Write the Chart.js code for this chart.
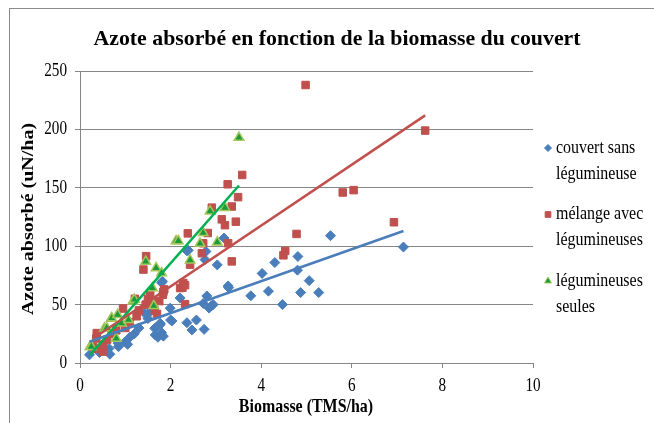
<!DOCTYPE html>
<html>
<head>
<meta charset="utf-8">
<script src="https://cdn.jsdelivr.net/npm/chart.js@4.4.0/dist/chart.umd.min.js"></script>
<style>
  html, body { margin: 0; padding: 0; background: #fff; }
  canvas { display: block; }
</style>
</head>
<body>
<canvas id="chart" width="654" height="423"></canvas>
<script>
const titre = 'Azote absorbé en fonction de la biomasse du couvert'
const titreX = 'Biomasse (TMS/ha)'
const titreY = 'Azote absorbé (uN/ha)'
const xTicks = [0, 2, 4, 6, 8, 10]
const yTicks = [0, 50, 100, 150, 200, 250]

// couvert sans légumineuse
const sansLabel = ['couvert sans', 'légumineuse']
const sansX = [0.21, 0.43, 0.66, 0.5, 0.64, 0.85, 0.84, 0.99, 1.05, 1.1, 1.2, 1.3, 1.43, 1.5, 1.55, 1.6, 1.65, 1.66, 1.72, 1.77, 1.8, 1.84, 1.77, 1.8, 1.82, 1.99, 2.0, 2.03, 2.21, 2.36, 2.39, 2.36, 2.47, 2.57, 2.72, 2.74, 2.76, 2.78, 2.8, 2.85, 2.9, 2.94, 3.03, 3.18, 3.27, 3.28, 3.77, 4.02, 4.16, 4.3, 4.47, 4.8, 4.81, 4.87, 5.06, 5.27, 5.53, 7.14]
const sansY = [7, 9, 7.5, 12, 12.5, 14, 17, 18, 16, 22, 25, 30, 42.5, 38, 44, 47, 29.7, 24, 22, 32.8, 26, 23, 34, 68.7, 70, 46.9, 36.8, 36, 55.7, 34.5, 96.5, 96, 28.3, 36.8, 51, 28.8, 88.5, 95.5, 57.4, 47, 49, 50, 84, 107, 66, 64.5, 57.5, 76.7, 61.5, 86, 50, 79.5, 91.2, 60.3, 70.5, 60.3, 109, 99.3]

// mélange avec légumineuses
const melangeLabel = ['mélange avec', 'légumineuses']
const melangeX = [0.29, 0.33, 0.36, 0.37, 0.51, 0.51, 0.6, 0.7, 0.8, 0.95, 1.0, 1.1, 1.21, 1.25, 1.3, 1.4, 1.46, 1.45, 1.5, 1.55, 1.6, 1.65, 1.7, 1.75, 1.83, 1.84, 1.86, 2.21, 2.26, 2.28, 2.32, 2.32, 2.38, 2.43, 2.69, 2.72, 2.82, 2.91, 3.13, 3.2, 3.26, 3.27, 3.35, 3.35, 3.44, 3.49, 3.58, 4.49, 4.53, 4.78, 4.98, 5.8, 6.04, 6.93, 7.62]
const melangeY = [14, 12, 21, 25.6, 9.7, 15.5, 20, 25, 28, 46.6, 30, 35, 55, 40, 45, 80, 91.5, 50, 55, 58, 52, 45, 42, 53, 58.5, 61, 63, 64.2, 64.4, 68.5, 66.6, 50.4, 111, 84.2, 94, 102.5, 111.3, 133, 123, 118, 153, 102.5, 134, 87, 121, 142, 161, 92.2, 96, 110.5, 238, 146, 148, 120.5, 199]

// légumineuses seules
const seulesLabel = ['légumineuses', 'seules']
const seulesX = [0.22, 0.25, 0.54, 0.59, 0.69, 0.7, 0.8, 0.83, 0.92, 1.07, 1.17, 1.2, 1.45, 1.6, 1.63, 1.68, 1.8, 2.12, 2.17, 2.43, 2.65, 2.72, 2.87, 3.03, 3.2, 3.51]
const seulesY = [14, 14, 29.7, 30, 38.2, 38.5, 21, 41.4, 34, 37, 52.8, 54.3, 87, 64.2, 49, 81.4, 77, 104.5, 104.5, 88, 102.3, 111.5, 130, 103.4, 133, 193]

// courbes de tendance (extrémités)
const tendSansX = [0.21, 7.14]
const tendSansY = [18.2, 113]
const tendMelangeX = [0.29, 7.62]
const tendMelangeY = [21, 212]
const tendSeulesX = [0.22, 3.51]
const tendSeulesY = [7, 152]

const bleu = '#4a7ebb'
const rouge = '#c0504d'
const vert = '#00b050'
const vertFonce = '#1a9a3a'
const vertClair = '#a4c65a'
const gris = '#868686'
const serif = '"Liberation Serif", "Times New Roman", serif'

const pts = (xs, ys) => xs.map((x, i) => ({ x: x, y: ys[i] }))

// texte écrasé horizontalement comme sur l'original
function squeezed(ctx, str, x, y, font, align, sx, rot, sy) {
  ctx.save()
  ctx.font = font
  ctx.fillStyle = '#000'
  ctx.translate(x, y)
  if (rot) ctx.rotate(rot)
  ctx.scale(sx, sy || 1)
  ctx.textAlign = align
  ctx.textBaseline = 'middle'
  ctx.fillText(str, 0, 0)
  ctx.restore()
}

const legendItems = [
  { lines: sansLabel, style: 'rectRot', fill: bleu, border: bleu, r: 3.5 },
  { lines: melangeLabel, style: 'rect', fill: rouge, border: rouge, r: 4 },
  { lines: seulesLabel, style: 'triangle', fill: vertFonce, border: vertClair, r: 4 }
]

const texts = {
  id: 'texts',
  afterDraw(chart) {
    const ctx = chart.ctx
    const xs = chart.scales.x
    const ys = chart.scales.y

    // cadre extérieur
    ctx.save()
    ctx.strokeStyle = '#8a8a8a'
    ctx.lineWidth = 1
    ctx.strokeRect(9.5, 8.5, 800, 600)
    ctx.restore()

    // titre
    ctx.save()
    ctx.font = 'bold 21px ' + serif
    const w = ctx.measureText(titre).width
    ctx.restore()
    squeezed(ctx, titre, 337, 40, 'bold 21px ' + serif, 'center', 487 / w)

    yTicks.forEach(v => squeezed(ctx, String(v), 67, ys.getPixelForValue(v), '19px ' + serif, 'right', 0.8))
    xTicks.forEach(v => squeezed(ctx, String(v), xs.getPixelForValue(v), 386, '19px ' + serif, 'center', 0.8))

    squeezed(ctx, titreX, 306, 407, 'bold 19px ' + serif, 'center', 0.84)
    squeezed(ctx, titreY, 29, 219, 'bold 20px ' + serif, 'center', 1.0, -Math.PI / 2, 0.82)

    legendItems.forEach((it, i) => {
      const y0 = 148 + i * 66.5
      ctx.save()
      ctx.fillStyle = it.fill
      ctx.strokeStyle = it.border
      ctx.lineWidth = 1
      Chart.helpers.drawPoint(ctx, { pointStyle: it.style, radius: it.r, rotation: 0, borderWidth: 1 }, 548, y0)
      ctx.restore()
      it.lines.forEach((t, k) => squeezed(ctx, t, 556, y0 + k * 26, '19px ' + serif, 'left', 0.84))
    })
  }
}

new Chart(document.getElementById('chart'), {
  type: 'scatter',
  data: {
    datasets: [
      {
        label: sansLabel.join(' '),
        data: pts(sansX, sansY),
        pointStyle: 'rectRot',
        pointRadius: 5,
        backgroundColor: bleu,
        borderColor: bleu,
        borderWidth: 1,
        order: 3
      },
      {
        label: melangeLabel.join(' '),
        data: pts(melangeX, melangeY),
        pointStyle: 'rect',
        pointRadius: 5.3,
        backgroundColor: rouge,
        borderColor: rouge,
        borderWidth: 1,
        order: 2
      },
      {
        label: seulesLabel.join(' '),
        data: pts(seulesX, seulesY),
        pointStyle: 'triangle',
        pointRadius: 5.5,
        backgroundColor: vertFonce,
        borderColor: vertClair,
        borderWidth: 1.5,
        order: 1
      },
      {
        type: 'line',
        data: pts(tendSansX, tendSansY),
        borderColor: bleu,
        borderWidth: 2.5,
        pointRadius: 0,
        order: 0
      },
      {
        type: 'line',
        data: pts(tendMelangeX, tendMelangeY),
        borderColor: rouge,
        borderWidth: 2.5,
        pointRadius: 0,
        order: 0
      },
      {
        type: 'line',
        data: pts(tendSeulesX, tendSeulesY),
        borderColor: vert,
        borderWidth: 2.5,
        pointRadius: 0,
        order: 0
      }
    ]
  },
  options: {
    responsive: false,
    animation: false,
    layout: { padding: { left: 75, right: 121, top: 71, bottom: 55 } },
    plugins: {
      legend: { display: false },
      title: { display: false },
      tooltip: { enabled: false }
    },
    scales: {
      x: {
        type: 'linear',
        min: 0,
        max: 10,
        ticks: { stepSize: 2, display: false },
        grid: { drawOnChartArea: false, drawTicks: true, tickLength: 5, color: gris },
        border: { color: gris }
      },
      y: {
        min: 0,
        max: 250,
        ticks: { stepSize: 50, display: false },
        grid: { drawTicks: true, tickLength: 5, color: gris },
        border: { color: gris }
      }
    }
  },
  plugins: [texts]
})
</script>
</body>
</html>
